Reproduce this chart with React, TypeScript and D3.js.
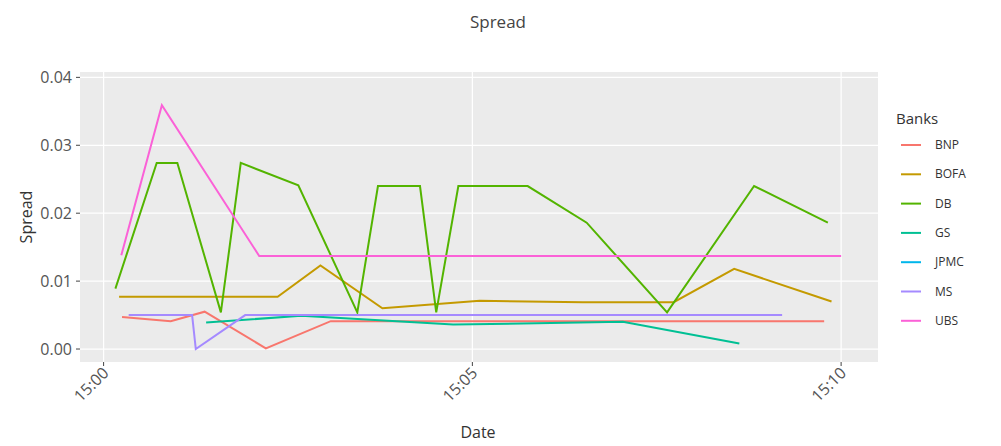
import React from "react";
import * as d3 from "d3";

const banks = ["BNP", "BOFA", "DB", "GS", "JPMC", "MS", "UBS"];
const colors = ["#F8766D", "#C49A00", "#53B400", "#00C094", "#00B6EB", "#A58AFF", "#FB61D7"];
// minutes after 15:00
const bnpT = [0.25, 0.91, 1.37, 2.2, 3.08, 9.77];
const bnpV = [0.0047, 0.0041, 0.0055, 0.0001, 0.0041, 0.0041];
const bofaT = [0.21, 2.36, 2.94, 3.78, 5.1, 6.5, 7.73, 8.55, 9.87];
const bofaV = [0.0077, 0.0077, 0.0123, 0.006, 0.0071, 0.0069, 0.0069, 0.0118, 0.007];
const dbT = [0.16, 0.72, 1.0, 1.59, 1.86, 2.64, 3.44, 3.72, 4.29, 4.51, 4.81, 5.75, 6.55, 7.64, 8.82, 9.82];
const dbV = [0.0089, 0.0274, 0.0274, 0.0054, 0.0274, 0.0241, 0.0054, 0.024, 0.024, 0.0054, 0.024, 0.024, 0.0186, 0.0054, 0.024, 0.0186];
const gsT = [1.39, 2.68, 4.74, 7.04, 8.62];
const gsV = [0.0039, 0.0049, 0.0036, 0.004, 0.0008];
const jpmcT: number[] = [];
const jpmcV: number[] = [];
const msT = [0.34, 1.2, 1.25, 1.92, 9.2];
const msV = [0.005, 0.005, 0.0, 0.005, 0.005];
const ubsT = [0.24, 0.79, 2.11, 10.0];
const ubsV = [0.0138, 0.0359, 0.0137, 0.0137];
const series = [[bnpT, bnpV], [bofaT, bofaV], [dbT, dbV], [gsT, gsV], [jpmcT, jpmcV], [msT, msV], [ubsT, ubsV]];
const yTicks = [0, 0.01, 0.02, 0.03, 0.04];

const base = new Date(2020, 0, 1, 15, 0, 0).getTime();
const toDate = (m: number) => new Date(base + m * 60000);
const xTicks = [0, 5, 10].map(toDate);

export default function App() {
  const L = 80, R = 878, T = 72, B = 362;
  const x = d3.scaleTime().domain([toDate(-0.32), toDate(10.5)]).range([L, R]);
  const y = d3.scaleLinear().domain([-0.00191, 0.04079]).range([B, T]);
  const line = d3.line<[number, number]>().x(d => x(toDate(d[0]))).y(d => y(d[1]));
  const fmt = d3.timeFormat("%H:%M");
  const font = "'Open Sans', 'Liberation Sans', sans-serif";
  return (
    <svg width={1001} height={446} style={{ position: "absolute", left: 0, top: 0, fontFamily: font }}>
      <rect width={1001} height={446} fill="#fff" />
      <text x={498} y={28} textAnchor="middle" fontSize={17} fill="#444">Spread</text>
      <rect x={L} y={T} width={R - L} height={B - T} fill="#EBEBEB" />
      {yTicks.map(t => (
        <g key={t}>
          <line x1={L} x2={R} y1={y(t)} y2={y(t)} stroke="#fff" strokeWidth={1.2} />
          <line x1={L - 4} x2={L} y1={y(t)} y2={y(t)} stroke="#444" />
          <text x={L - 8} y={y(t) + 6} textAnchor="end" fontSize={16} fill="#555">{t.toFixed(2)}</text>
        </g>
      ))}
      {xTicks.map((t, i) => (
        <g key={i}>
          <line x1={x(t)} x2={x(t)} y1={T} y2={B} stroke="#fff" strokeWidth={1.2} />
          <line x1={x(t)} x2={x(t)} y1={B} y2={B + 4} stroke="#444" />
          <text transform={`translate(${x(t) + 6},${B + 12}) rotate(-45)`} textAnchor="end" fontSize={16} fill="#555">{fmt(t)}</text>
        </g>
      ))}
      {series.map(([ts, vs], i) => (
        <path key={i} d={line(ts.map((t, j) => [t, vs[j]] as [number, number])) || ""} fill="none" stroke={colors[i]} strokeWidth={2} />
      ))}
      <text x={478} y={438} textAnchor="middle" fontSize={16} fill="#333">Date</text>
      <text transform={`translate(32,${217}) rotate(-90)`} textAnchor="middle" fontSize={16} fill="#333">Spread</text>
      <text x={896} y={124} fontSize={15} fill="#333">Banks</text>
      {banks.map((b, i) => (
        <g key={b}>
          <line x1={901} x2={921} y1={145 + i * 29.3} y2={145 + i * 29.3} stroke={colors[i]} strokeWidth={2} />
          <text x={935} y={149 + i * 29.3} fontSize={12} fill="#333">{b}</text>
        </g>
      ))}
    </svg>
  );
}
